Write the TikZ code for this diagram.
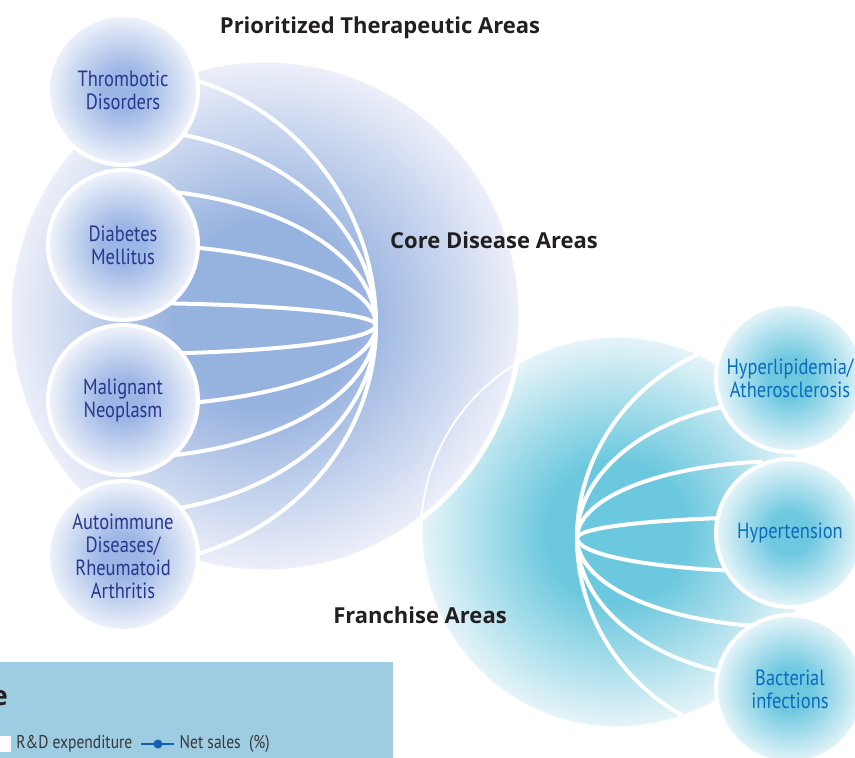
\documentclass[tikz,border=0pt]{standalone}
\usepackage{fontspec}
\setmainfont{PT Sans}[FakeStretch=0.84]
\newfontfamily\headfont{Open Sans}
\usetikzlibrary{
	calc,          %坐标计算
	positioning,   %相对定位
	shapes.geometric,
	shadings       %渐变
}
\definecolor{coreIn}{RGB}{150,178,223}
\definecolor{coreOut}{RGB}{238,240,250}
\definecolor{franIn}{RGB}{108,200,222}
\definecolor{franOut}{RGB}{232,245,249}
\definecolor{leftIn}{RGB}{156,182,229}
\definecolor{leftOut}{RGB}{240,243,251}
\definecolor{rightIn}{RGB}{110,200,224}
\definecolor{rightOut}{RGB}{230,245,249}
\definecolor{leftText}{RGB}{40,55,140}
\definecolor{rightText}{RGB}{10,108,188}
\definecolor{headText}{RGB}{35,31,32}
\definecolor{legendBg}{RGB}{158,204,227}
\definecolor{salesBlue}{RGB}{20,95,175}
\definecolor{legendText}{RGB}{55,55,55}
\pgfdeclareradialshading{coreglow}{\pgfpoint{0bp}{0bp}}{color(0bp)=(coreIn); color(9bp)=(coreIn); color(25bp)=(coreOut); color(50bp)=(coreOut)}
\pgfdeclareradialshading{franglow}{\pgfpoint{0bp}{0bp}}{color(0bp)=(franIn); color(9bp)=(franIn); color(25bp)=(franOut); color(50bp)=(franOut)}
\pgfdeclareradialshading{leftglow}{\pgfpoint{0bp}{0bp}}{color(0bp)=(leftIn); color(7bp)=(leftIn); color(25bp)=(leftOut); color(50bp)=(leftOut)}
\pgfdeclareradialshading{rightglow}{\pgfpoint{0bp}{0bp}}{color(0bp)=(rightIn); color(7bp)=(rightIn); color(25bp)=(rightOut); color(50bp)=(rightOut)}
\tikzset{
	bigarea/.style={circle, draw=white, line width=5pt, inner sep=0pt, shade},
	ball/.style={circle, draw=white, line width=4pt, inner sep=0pt, shade,
		align=center, font=\fontsize{22}{23}\selectfont},
	coreball/.style={ball, shading=leftglow, text=leftText, minimum size=150pt},
	franball/.style={ball, shading=rightglow, text=rightText, minimum size=148pt},
	spoke/.style={draw=white, line width=4pt},
	areahead/.style={font=\headfont\bfseries\fontsize{22}{26}\selectfont, text=headText, inner sep=0pt},
	legendtext/.style={font=\fontsize{18.5}{20}\selectfont, text=legendText, inner sep=0pt}
}
\begin{document}
\begin{tikzpicture}[x=1pt,y=1pt]
	\clip (0,0) rectangle (855,-758);
	% Franchise Areas
	\node (franchise) at (617,-532) [bigarea, shading=franglow, minimum size=394pt] {};
	\coordinate (franhub) at (577,-538);
	\begin{scope}
		\clip (franchise.center) circle (196pt);
		\foreach \ang/\ry in {107/203, 106/138, 97/77, 107/21, 253/34, 261/89, 253/141, 255/205}
		\draw[spoke] (franhub) arc[start angle=180, end angle=\ang, x radius=211pt, y radius=\ry pt];
	\end{scope}
	% Core Disease Areas
	\node (core) at (265,-316) [bigarea, shading=coreglow, minimum size=512pt] {};
	\begin{scope}
		\clip (core.center) circle (255pt);
		\draw[white, line width=1.8pt] (franchise.center) circle (196pt);
	\end{scope}
	\coordinate (corehub) at (376,-325);
	\foreach \ang/\ry in {75/256, 78/196, 80/136, 75/81, 80/22, -78/29, -75/81, -80/133, -78/188, -75/240}
	\draw[spoke] (corehub) arc[start angle=0, end angle=\ang, x radius=255pt, y radius=\ry pt];
	% titles
	\node (ptatitle) at (380,-33) [areahead, anchor=base] {Prioritized Therapeutic Areas};
	\node (coretitle) at (494,-248) [areahead, anchor=base] {Core Disease Areas};
	\node (frantitle) at (420,-623) [areahead, anchor=base] {Franchise Areas};
	% small circles
	\node (thrombotic) at (123,-90) [coreball] {Thrombotic\\Disorders};
	\node (diabetes) at (123,-245) [coreball] {Diabetes\\Mellitus};
	\node (neoplasm) at (123,-400) [coreball] {Malignant\\Neoplasm};
	\node (autoimmune) at (123,-556) [coreball] {Autoimmune\\Diseases/\\Rheumatoid\\Arthritis};
	\node (lipid) at (790,-378) [franball] {Hyperlipidemia/\\Atherosclerosis};
	\node (hypertension) at (790,-533) [franball] {Hypertension};
	\node (bacterial) at (790,-689) [franball] {Bacterial\\infections};
	% legend
	\fill[legendBg] (-5,-662) rectangle (393,-765);
	\node (legendcap) at (8,-705) [anchor=base east, inner sep=0pt, text=headText,
		font=\headfont\bfseries\fontsize{27}{30}\selectfont] {e};
	\node (rdkey) at (3,-744) [fill=white, minimum size=16pt, inner sep=0pt] {};
	\node (rdtext) [legendtext, right=5pt of rdkey] {R\&D expenditure};
	\coordinate[right=9pt of rdtext] (salesA);
	\coordinate[right=33pt of salesA] (salesB);
	\draw[salesBlue, line width=2pt] (salesA) -- (salesB);
	\fill[salesBlue] ($(salesA)!0.5!(salesB)$) circle (4.5pt);
	\node (salestext) [legendtext, right=5pt of salesB] {Net sales\hspace{0.45em}(\%)};
\end{tikzpicture}
\end{document}
